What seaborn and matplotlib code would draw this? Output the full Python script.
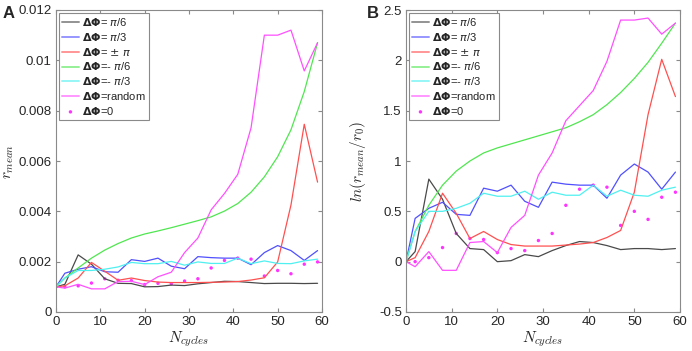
import numpy as np
import pandas as pd
import matplotlib
matplotlib.use("Agg")
import matplotlib.pyplot as plt
import seaborn as sns

# cycles sampled
cycles = [0, 2, 5, 8, 11, 14, 17, 20, 23, 26, 29, 32, 35, 38, 41, 44, 47, 50, 53, 56, 59]

# panel A: r_mean (x 1e-3)
a_pi6 = [1.0, 1.1, 2.27, 1.9, 1.32, 1.14, 1.13, 1.0, 1.01, 1.07, 1.05, 1.12, 1.17, 1.22, 1.21, 1.17, 1.13, 1.14, 1.14, 1.13, 1.14]
a_pi3 = [1.0, 1.54, 1.70, 1.80, 1.60, 1.58, 2.08, 2.01, 2.14, 1.82, 1.72, 2.20, 2.16, 2.14, 2.14, 1.88, 2.36, 2.64, 2.44, 2.05, 2.44]
a_pm = [1.0, 1.04, 1.35, 1.97, 1.62, 1.26, 1.35, 1.25, 1.19, 1.17, 1.17, 1.17, 1.18, 1.19, 1.21, 1.27, 1.36, 1.99, 4.25, 7.46, 5.16]
a_mpi6 = [1.0, 1.35, 1.75, 2.14, 2.46, 2.72, 2.94, 3.10, 3.22, 3.35, 3.49, 3.63, 3.78, 4.01, 4.31, 4.76, 5.37, 6.17, 7.24, 8.76, 10.7]
a_mpi3 = [1.0, 1.35, 1.65, 1.65, 1.70, 1.79, 1.97, 1.92, 1.92, 2.01, 1.86, 1.99, 1.93, 1.93, 2.14, 1.92, 2.03, 1.93, 1.92, 2.03, 2.10]
a_rand = [1.0, 0.95, 1.10, 0.92, 0.92, 1.21, 1.22, 1.09, 1.40, 1.58, 2.36, 2.94, 4.06, 4.71, 5.47, 7.32, 11.0, 11.0, 11.2, 9.58, 10.7]
a_zero = [1.0, 1.0, 1.04, 1.15, 1.32, 1.26, 1.25, 1.09, 1.14, 1.12, 1.23, 1.32, 1.75, 2.05, 2.14, 2.10, 1.43, 1.65, 1.52, 1.90, 1.99]

# panel B: ln(r_mean/r0)
b_pi6 = [0, 0.1, 0.82, 0.62, 0.28, 0.13, 0.12, 0.0, 0.01, 0.07, 0.05, 0.11, 0.16, 0.20, 0.19, 0.16, 0.12, 0.13, 0.13, 0.12, 0.13]
b_pi3 = [0, 0.43, 0.53, 0.59, 0.47, 0.46, 0.73, 0.70, 0.76, 0.60, 0.54, 0.79, 0.77, 0.76, 0.76, 0.63, 0.86, 0.97, 0.89, 0.72, 0.89]
b_pm = [0, 0.04, 0.30, 0.68, 0.48, 0.23, 0.30, 0.22, 0.17, 0.155, 0.155, 0.155, 0.165, 0.175, 0.19, 0.24, 0.31, 0.69, 1.46, 2.01, 1.64]
b_mpi6 = [0, 0.30, 0.56, 0.76, 0.90, 1.0, 1.08, 1.13, 1.17, 1.21, 1.25, 1.29, 1.33, 1.39, 1.46, 1.56, 1.68, 1.82, 1.98, 2.17, 2.37]
b_mpi3 = [0, 0.30, 0.50, 0.50, 0.53, 0.58, 0.68, 0.65, 0.65, 0.70, 0.62, 0.69, 0.66, 0.66, 0.76, 0.65, 0.71, 0.66, 0.65, 0.71, 0.74]
b_rand = [0, -0.05, 0.10, -0.086, -0.086, 0.19, 0.20, 0.09, 0.34, 0.46, 0.86, 1.08, 1.40, 1.55, 1.70, 1.99, 2.40, 2.40, 2.42, 2.26, 2.37]
b_zero = [0, 0, 0.04, 0.14, 0.28, 0.23, 0.22, 0.09, 0.13, 0.11, 0.21, 0.28, 0.56, 0.72, 0.76, 0.74, 0.36, 0.50, 0.42, 0.64, 0.69]

labels = [r"$\mathbf{\Delta\Phi}$= $\pi$/6", r"$\mathbf{\Delta\Phi}$= $\pi$/3", r"$\mathbf{\Delta\Phi}$= $\pm$ $\pi$",
          r"$\mathbf{\Delta\Phi}$=- $\pi$/6", r"$\mathbf{\Delta\Phi}$=- $\pi$/3", r"$\mathbf{\Delta\Phi}$=random"]
zero_label = r"$\mathbf{\Delta\Phi}$=0"
colors = ["#4a4a4a", "#5050ff", "#ff5050", "#50e650", "#50f0f0", "#ff50ff"]

sns.set_style("white")
plt.rcParams["font.family"] = ["Liberation Sans", "DejaVu Sans"]
plt.rcParams["mathtext.fontset"] = "dejavusans"

fig = plt.figure(figsize=(6.92, 3.51), dpi=100)
axA = fig.add_axes([56 / 692, 39 / 351, 266 / 692, 302 / 351])
axB = fig.add_axes([406 / 692, 39 / 351, 274 / 692, 302 / 351])


def panel(ax, series, dots, scale):
    for vals, lab, c in zip(series, labels, colors):
        sns.lineplot(x=cycles, y=np.array(vals) * scale, ax=ax, color=c, lw=0.9, label=lab)
    sns.scatterplot(x=cycles, y=np.array(dots) * scale, ax=ax, color="#ff33ff", s=6,
                    edgecolor="none", marker="o", label=zero_label)
    for s in ax.spines.values():
        s.set_color("#8a8a8a")
        s.set_linewidth(0.8)
    ax.tick_params(direction="in", length=3, color="#8a8a8a", labelsize=9.5,
                   top=True, right=True, bottom=True, left=True, pad=3)
    ax.set_xlim(0, 60)
    ax.set_xticks(range(0, 61, 10))
    ax.set_xlabel(r"$N_{cycles}$", fontsize=11, labelpad=1, math_fontfamily="cm")
    leg = ax.legend(loc="upper left", fontsize=8, handlelength=1.5, handletextpad=0.3,
                    labelspacing=0.25, borderpad=0.3, borderaxespad=0.25, fancybox=False,
                    framealpha=1, edgecolor="#8a8a8a", markerscale=1.0)
    leg.get_frame().set_linewidth(0.8)
    for h in leg.legend_handles[:-1]:
        h.set_alpha(0.6)
        h.set_linewidth(1.4)


panel(axA, [a_pi6, a_pi3, a_pm, a_mpi6, a_mpi3, a_rand], a_zero, 0.001)
axA.set_ylim(0, 0.012)
axA.set_yticks([0, 0.002, 0.004, 0.006, 0.008, 0.01, 0.012])
axA.set_yticklabels(["0", "0.002", "0.004", "0.006", "0.008", "0.01", "0.012"])
axA.set_ylabel(r"$r_{mean}$", fontsize=11, math_fontfamily="cm")
axA.yaxis.set_label_coords(-0.15, 0.5)

panel(axB, [b_pi6, b_pi3, b_pm, b_mpi6, b_mpi3, b_rand], b_zero, 1.0)
axB.set_ylim(-0.5, 2.5)
axB.set_yticks([-0.5, 0, 0.5, 1, 1.5, 2, 2.5])
axB.set_yticklabels(["-0.5", "0", "0.5", "1", "1.5", "2", "2.5"])
axB.set_ylabel(r"$ln(r_{mean}/r_0)$", fontsize=11, math_fontfamily="cm")
axB.yaxis.set_label_coords(-0.14, 0.5)

fig.text(3 / 692, 1 - 18 / 351, "A", fontsize=12, fontweight="bold")
fig.text(367 / 692, 1 - 18 / 351, "B", fontsize=12, fontweight="bold")

fig.savefig("out.png", dpi=100)
